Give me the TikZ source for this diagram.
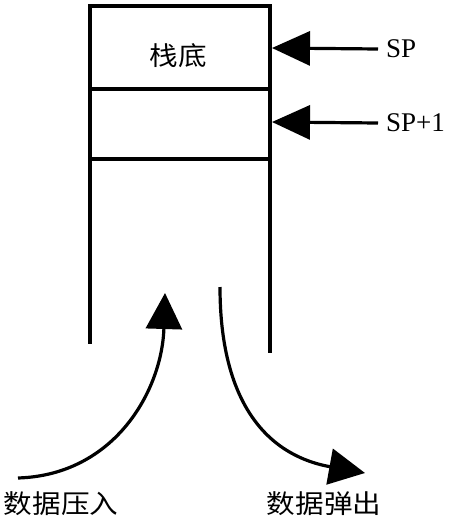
\documentclass[tikz,border=0pt]{standalone}
\usepackage{fontspec}
\setmainfont{Liberation Serif}
\newfontfamily\cjk{Noto Sans CJK SC}
\usetikzlibrary{arrows.meta}
\begin{document}
\begin{tikzpicture}[x=1pt,y=-1pt,
  wall/.style={line width=3.2pt},
  cell/.style={draw,line width=3.2pt,minimum width=180pt,inner sep=0pt,outer sep=0pt},
  ptr/.style={line width=3.2pt,-{Triangle[length=38pt,width=34pt]}},
  flow/.style={line width=3.2pt,-{Triangle[length=36pt,width=36pt]}},
  lab/.style={inner sep=0pt,font=\fontsize{27}{30}\selectfont},
  cn/.style={inner sep=0pt,font=\cjk\fontsize{26}{30}\selectfont,xscale=1.1}]
\useasboundingbox (0,0) rectangle (454,522);
\node[cell,minimum height=83pt] (c1) at (180,47.5) {};
\node[cell,minimum height=70pt] (c2) at (180,124) {};
\node[cn] (bottom) at (178,56) {栈底};
\coordinate (lwall) at (90,344);
\coordinate (rwall) at (270,353);
\draw[wall] (c2.south west) -- (lwall);
\draw[wall] (c2.south east) -- (rwall);
\node[lab,anchor=west] (sp) at (386,49) {SP};
\node[lab,anchor=west] (sp1) at (386,123) {SP+1};
\coordinate (t1) at (272,48);
\coordinate (t2) at (272,122);
\draw[ptr] ([xshift=-8pt]sp.west) -- (t1);
\draw[ptr] ([xshift=-8pt]sp1.west) -- (t2);
\coordinate (pushs) at (18,478);
\coordinate (pusht) at (165,293);
\draw[flow] (pushs) .. controls (115,475) and (162,390) .. (pusht);
\coordinate (pops) at (220,287);
\coordinate (popt) at (365,473);
\draw[flow] (pops) .. controls (220,400) and (265,455) .. (popt);
\node[cn] (push) at (61,504) {数据压入};
\node[cn] (pop) at (324,504) {数据弹出};
\end{tikzpicture}
\end{document}
